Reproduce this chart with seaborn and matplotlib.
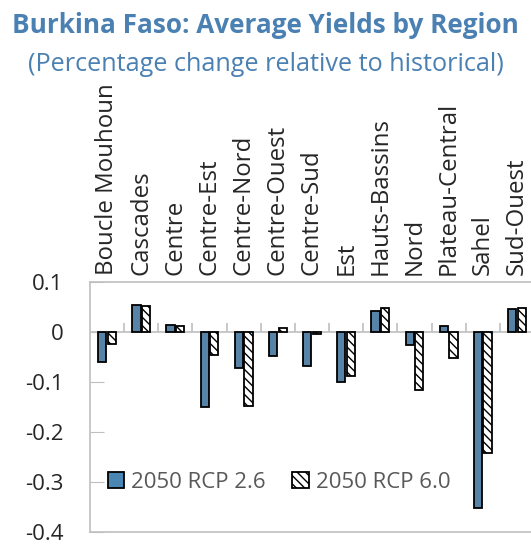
import seaborn as sns
import matplotlib.pyplot as plt
import matplotlib.patches as mpatches
import pandas as pd
import numpy as np

regions = ['Boucle Mouhoun', 'Cascades', 'Centre', 'Centre-Est', 'Centre-Nord',
           'Centre-Ouest', 'Centre-Sud', 'Est', 'Hauts-Bassins', 'Nord',
           'Plateau-Central', 'Sahel', 'Sud-Ouest']
rcp26 = [-0.060, 0.055, 0.015, -0.150, -0.071, -0.047, -0.067, -0.100, 0.042,
         -0.025, 0.012, -0.352, 0.047]
rcp60 = [-0.023, 0.052, 0.013, -0.045, -0.147, 0.009, -0.003, -0.087, 0.049,
         -0.115, -0.051, -0.241, 0.049]
series = ['2050 RCP 2.6', '2050 RCP 6.0']

BLUE = '#4A86B3'
TITLE = '#4A80B2'
GRAY = '#BFBFBF'


def main():
    df = pd.DataFrame({'region': regions * 2,
                       'value': rcp26 + rcp60,
                       'series': [series[0]] * len(regions) + [series[1]] * len(regions)})

    sns.set_style('white')
    plt.rcParams['font.family'] = ['Open Sans', 'DejaVu Sans']
    plt.rcParams['hatch.linewidth'] = 1.0

    fig = plt.figure(figsize=(5.31, 5.52), dpi=100)
    ax = fig.add_axes([90 / 531, 20 / 552, 444 / 531, 250 / 552])

    sns.barplot(data=df, x='region', y='value', hue='series', order=regions,
                hue_order=series, palette=[BLUE, 'white'], width=0.56, gap=0.14,
                edgecolor='black', linewidth=1.3, legend=False, ax=ax)

    # second hue gets the hatch pattern
    n = len(regions)
    for i, bar in enumerate(ax.patches[:2 * n]):
        if i >= n:
            bar.set_hatch('\\\\\\\\')

    ax.set_ylim(-0.4, 0.1)
    ax.set_xlim(-0.5, n - 0.5)
    ax.set_yticks(np.arange(-0.4, 0.11, 0.1))
    ax.set_yticklabels(['-0.4', '-0.3', '-0.2', '-0.1', '0', '0.1'])
    ax.tick_params(axis='y', direction='in', length=10, color=GRAY, labelsize=16,
                   pad=19, left=True)

    ax.xaxis.tick_top()
    ax.set_xticks(range(n))
    ax.set_xticklabels(regions, rotation=90, fontsize=17.3)
    ax.tick_params(axis='x', length=0, pad=5)
    ax.set_xlabel('')
    ax.set_ylabel('')

    for s in ax.spines.values():
        s.set_color(GRAY)
        s.set_linewidth(1.2)

    ax.axhline(0, color=GRAY, lw=1.2, zorder=0.5)
    ax.vlines(np.arange(0.5, n - 0.5), 0, 0.018, color=GRAY, lw=1.2, zorder=0.5)

    handles = [mpatches.Patch(facecolor=BLUE, edgecolor='black', lw=1.3, label=series[0]),
               mpatches.Patch(facecolor='white', edgecolor='black', lw=1.3,
                              hatch='\\\\\\\\', label=series[1])]
    leg = ax.legend(handles=handles, loc='lower left', bbox_to_anchor=(-0.005, 0.077),
                    ncol=2, frameon=False, fontsize=16, handlelength=0.75,
                    handleheight=0.75, handletextpad=0.3, columnspacing=1.2)
    for t in leg.get_texts():
        t.set_color('#595959')

    fig.text(0.5, 0.979, 'Burkina Faso: Average Yields by Region', ha='center', va='top',
             fontsize=18.8, fontweight='bold', color=TITLE)
    fig.text(0.5, 0.905, '(Percentage change relative to historical)', ha='center', va='top',
             fontsize=18.2, color=TITLE)

    fig.savefig('out.png', dpi=100)


if __name__ == "__main__":
    main()
